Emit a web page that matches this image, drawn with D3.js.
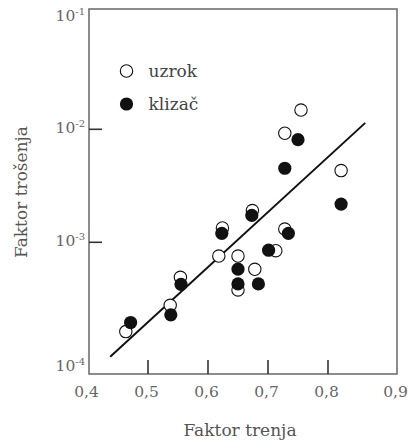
<!DOCTYPE html>
<html>
<head>
<meta charset="utf-8">
<script src="https://cdn.jsdelivr.net/npm/d3@7/dist/d3.min.js"></script>
<style>
  body { margin: 0; background: #fff; }
  text { font-family: "DejaVu Serif", serif; }
</style>
</head>
<body>
<script>
// uzrok (open circles)
var uzrokX = [0.755, 0.728, 0.819, 0.674, 0.624, 0.728, 0.713, 0.618, 0.650, 0.678, 0.650, 0.554, 0.537, 0.463];
var uzrokY = [0.0148, 0.00923, 0.00431, 0.00191, 0.00134, 0.00131, 0.000843, 0.000756, 0.000756, 0.000577, 0.000379, 0.000490, 0.000277, 0.000162];

// klizač (filled circles)
var klizacX = [0.750, 0.728, 0.819, 0.673, 0.623, 0.734, 0.701, 0.650, 0.650, 0.684, 0.555, 0.538, 0.471];
var klizacY = [0.00809, 0.00452, 0.00218, 0.00173, 0.00120, 0.00120, 0.000851, 0.000578, 0.000428, 0.000428, 0.000425, 0.000228, 0.000195];

// regression line end points
var trendX = [0.437, 0.854];
var trendY = [0.000097, 0.0114];

var xTicks = [0.4, 0.5, 0.6, 0.7, 0.8, 0.9];
var xTickLabels = ["0,4", "0,5", "0,6", "0,7", "0,8", "0,9"];
var yTicks = [1e-4, 1e-3, 1e-2, 1e-1];
var yTickExp = ["-4", "-3", "-2", "-1"];

var seriesNames = ["uzrok", "klizač"];

function init() {
    var w = 414;
    var h = 443;
    var left = 89, right = 397, top = 9, bottom = 374;

    var svg = d3.select("body")
        .append("svg")
        .attr("width", w)
        .attr("height", h);

    // the original axis is hand-spaced, so the last step is a bit wider
    var x = d3.scaleLinear()
        .domain([0.4, 0.8, 0.9])
        .range([88, 328, 397]);

    var y = d3.scaleLog()
        .domain([1e-3, 1e-2])
        .range([242.3, 129.3]);

    // frame
    svg.append("rect")
        .attr("x", left)
        .attr("y", top)
        .attr("width", right - left)
        .attr("height", bottom - top)
        .attr("fill", "none")
        .attr("stroke", "#707070")
        .attr("stroke-width", 1.6);

    // inner ticks
    svg.selectAll(".xtick")
        .data(xTicks.slice(1, -1))
        .enter()
        .append("line")
        .attr("x1", function(d) { return x(d); })
        .attr("x2", function(d) { return x(d); })
        .attr("y1", bottom)
        .attr("y2", bottom - 14)
        .attr("stroke", "#333")
        .attr("stroke-width", 1.6);

    svg.selectAll(".ytick")
        .data(yTicks.slice(1, -1))
        .enter()
        .append("line")
        .attr("x1", left)
        .attr("x2", left + 13)
        .attr("y1", function(d) { return y(d); })
        .attr("y2", function(d) { return y(d); })
        .attr("stroke", "#333")
        .attr("stroke-width", 1.6);

    // x tick labels
    svg.selectAll(".xlabel")
        .data(xTicks)
        .enter()
        .append("text")
        .attr("x", function(d) { return x(d) - 1.5; })
        .attr("y", 397)
        .attr("text-anchor", "middle")
        .attr("font-size", 15.5)
        .attr("fill", "#666")
        .text(function(d, i) { return xTickLabels[i]; });

    // y tick labels (end labels sit at the frame corners)
    var ylab = svg.selectAll(".ylabel")
        .data(yTicks)
        .enter()
        .append("text")
        .attr("x", 85)
        .attr("y", function(d, i) {
            if (i === 0) return bottom - 3;
            if (i === yTicks.length - 1) return top + 12;
            return y(d) + 4;
        })
        .attr("text-anchor", "end")
        .attr("font-size", 15.5)
        .attr("fill", "#666");
    ylab.append("tspan").text("10");
    ylab.append("tspan")
        .attr("dy", -6)
        .attr("font-size", 10)
        .text(function(d, i) { return yTickExp[i]; });

    // regression line
    svg.append("line")
        .attr("x1", x(trendX[0]))
        .attr("y1", y(trendY[0]))
        .attr("x2", x(trendX[1]))
        .attr("y2", y(trendY[1]))
        .attr("stroke", "#111")
        .attr("stroke-width", 2);

    // open circles
    svg.selectAll(".uzrok")
        .data(uzrokX)
        .enter()
        .append("circle")
        .attr("cx", function(d) { return x(d); })
        .attr("cy", function(d, i) { return y(uzrokY[i]); })
        .attr("r", 6.2)
        .attr("fill", "#fff")
        .attr("stroke", "#111")
        .attr("stroke-width", 1.1);

    // filled circles
    svg.selectAll(".klizac")
        .data(klizacX)
        .enter()
        .append("circle")
        .attr("cx", function(d) { return x(d); })
        .attr("cy", function(d, i) { return y(klizacY[i]); })
        .attr("r", 6.6)
        .attr("fill", "#111");

    // legend
    var legend = svg.selectAll(".legend")
        .data(seriesNames)
        .enter()
        .append("g")
        .attr("transform", function(d, i) { return "translate(126.5," + (71 + i * 33) + ")"; });
    legend.append("circle")
        .attr("r", function(d, i) { return i === 0 ? 6.2 : 6.6; })
        .attr("fill", function(d, i) { return i === 0 ? "#fff" : "#111"; })
        .attr("stroke", function(d, i) { return i === 0 ? "#111" : "none"; })
        .attr("stroke-width", 1.1);
    legend.append("text")
        .attr("x", 22)
        .attr("y", 5.5)
        .attr("font-size", 17)
        .attr("fill", "#444")
        .text(function(d) { return d; });

    // axis titles
    svg.append("text")
        .attr("x", 240)
        .attr("y", 436)
        .attr("text-anchor", "middle")
        .attr("font-size", 17)
        .attr("fill", "#555")
        .text("Faktor trenja");

    svg.append("text")
        .attr("transform", "translate(27,192) rotate(-90)")
        .attr("text-anchor", "middle")
        .attr("font-size", 17)
        .attr("fill", "#555")
        .text("Faktor trošenja");
}
window.onload = init;
</script>
</body>
</html>
